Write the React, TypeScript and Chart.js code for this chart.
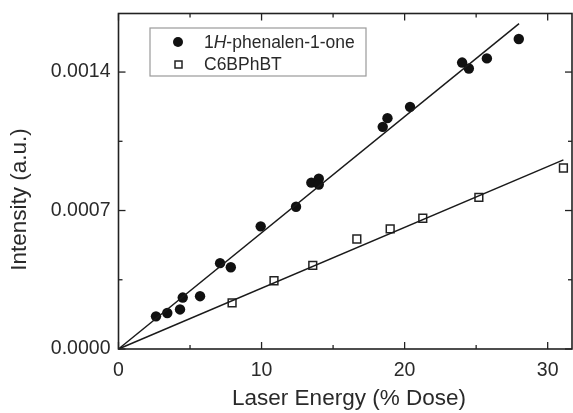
import React, { useEffect, useRef } from 'react';
import { Chart, registerables } from 'chart.js';

Chart.register(...registerables);

// Data: 1H-phenalen-1-one (filled circles)
const phenX = [2.62, 3.41, 4.30, 4.49, 5.70, 7.10, 7.85, 9.94, 12.41, 13.48, 14.0, 14.0, 18.47, 18.80, 20.38, 24.02, 24.49, 25.75, 27.98];
const phenY = [0.000165, 0.000182, 0.0002, 0.00026, 0.000267, 0.000434, 0.000413, 0.00062, 0.000719, 0.000841, 0.000861, 0.000831, 0.001123, 0.001167, 0.001224, 0.001448, 0.001418, 0.001469, 0.001567];
// Data: C6BPhBT (open squares)
const c6X = [7.94, 10.87, 13.58, 16.66, 18.99, 21.27, 25.19, 31.1];
const c6Y = [0.000233, 0.000345, 0.000423, 0.000556, 0.000607, 0.000661, 0.000766, 0.000915];
// Linear fits (endpoints)
const phenFitX = [0, 28.0];
const phenFitY = [0, 0.001645];
const c6FitX = [0, 31.1];
const c6FitY = [0, 0.000956];

const xTicks = [0, 10, 20, 30];
const xMinor = [5, 15, 25];
const yTicks = [0, 0.0007, 0.0014];
const yMinor = [0.00035, 0.00105];

const seriesNames = ['1H-phenalen-1-one', 'C6BPhBT'];
const xTitle = 'Laser Energy (% Dose)';
const yTitle = 'Intensity (a.u.)';

const FONT = '"Liberation Sans", Arial, sans-serif';
const TEXT = '#2a2a2a';

const zip = (xs: number[], ys: number[]) => xs.map((x, i) => ({ x, y: ys[i] }));

const framePlugin = {
  id: 'frame',
  afterDraw(chart: any) {
    const { ctx, chartArea: a, scales } = chart;
    const x = scales.x;
    const y = scales.y;
    ctx.save();
    ctx.strokeStyle = '#222';
    ctx.lineWidth = 1.6;
    ctx.strokeRect(a.left, a.top, a.right - a.left, a.bottom - a.top);
    const line = (x1: number, y1: number, x2: number, y2: number) => {
      ctx.beginPath();
      ctx.moveTo(x1, y1);
      ctx.lineTo(x2, y2);
      ctx.stroke();
    };
    ctx.lineWidth = 1.3;
    const maj = 7, min = 4;
    xTicks.forEach((v) => {
      const p = x.getPixelForValue(v);
      line(p, a.bottom, p, a.bottom - maj);
      line(p, a.top, p, a.top + maj);
    });
    xMinor.forEach((v) => {
      const p = x.getPixelForValue(v);
      line(p, a.bottom, p, a.bottom - min);
      line(p, a.top, p, a.top + min);
    });
    yTicks.forEach((v) => {
      const p = y.getPixelForValue(v);
      line(a.left, p, a.left + maj, p);
      line(a.right, p, a.right - maj, p);
    });
    yMinor.forEach((v) => {
      const p = y.getPixelForValue(v);
      line(a.left, p, a.left + min, p);
      line(a.right, p, a.right - min, p);
    });

    // axis titles
    ctx.fillStyle = TEXT;
    ctx.font = `22.5px ${FONT}`;
    ctx.textAlign = 'center';
    ctx.textBaseline = 'middle';
    ctx.fillText(xTitle, 349, 399);
    ctx.save();
    ctx.translate(20, 199.5);
    ctx.rotate(-Math.PI / 2);
    ctx.fillText(yTitle, 0, 0);
    ctx.restore();

    // legend
    const lx = 150, ly = 28, lw = 216, lh = 48;
    ctx.fillStyle = '#fff';
    ctx.fillRect(lx, ly, lw, lh);
    ctx.strokeStyle = '#9a9a9a';
    ctx.lineWidth = 1.2;
    ctx.strokeRect(lx, ly, lw, lh);
    // marker 1
    ctx.fillStyle = '#111';
    ctx.beginPath();
    ctx.arc(178, 42, 5, 0, Math.PI * 2);
    ctx.fill();
    // marker 2
    ctx.strokeStyle = '#222';
    ctx.lineWidth = 1.5;
    ctx.strokeRect(175, 61, 7, 7);
    // text
    ctx.fillStyle = TEXT;
    ctx.textAlign = 'left';
    ctx.textBaseline = 'middle';
    const tx = 204;
    const name = seriesNames[0];
    const parts = [name.slice(0, 1), name.slice(1, 2), name.slice(2)];
    ctx.font = `17.5px ${FONT}`;
    let cx = tx;
    ctx.fillText(parts[0], cx, 43);
    cx += ctx.measureText(parts[0]).width;
    ctx.font = `italic 17.5px ${FONT}`;
    ctx.fillText(parts[1], cx, 43);
    cx += ctx.measureText(parts[1]).width;
    ctx.font = `17.5px ${FONT}`;
    ctx.fillText(parts[2], cx, 43);
    ctx.fillText(seriesNames[1], tx, 65);
    ctx.restore();
  },
};

const zeroPad = (s: any) => {
  s.paddingLeft = 0;
  s.paddingRight = 0;
  s.paddingTop = 0;
  s.paddingBottom = 0;
};

export default function App() {
  const ref = useRef<HTMLCanvasElement>(null);
  useEffect(() => {
    const prevMargin = document.body.style.margin;
    document.body.style.margin = '0';
    const canvas = ref.current!;
    const chart = new Chart(canvas, {
      type: 'scatter',
      data: {
        datasets: [
          {
            type: 'line',
            label: 'fit1',
            data: zip(phenFitX, phenFitY),
            borderColor: '#1a1a1a',
            borderWidth: 1.5,
            pointRadius: 0,
            fill: false,
          } as any,
          {
            type: 'line',
            label: 'fit2',
            data: zip(c6FitX, c6FitY),
            borderColor: '#1a1a1a',
            borderWidth: 1.5,
            pointRadius: 0,
            fill: false,
          } as any,
          {
            label: seriesNames[0],
            data: zip(phenX, phenY),
            pointStyle: 'circle',
            pointRadius: 5.2,
            backgroundColor: '#111',
            borderColor: '#111',
            borderWidth: 0,
          },
          {
            label: seriesNames[1],
            data: zip(c6X, c6Y),
            pointStyle: 'rect',
            pointRadius: 5.5,
            backgroundColor: '#fff',
            borderColor: '#222',
            borderWidth: 1.5,
          },
        ],
      },
      options: {
        responsive: false,
        animation: false,
        devicePixelRatio: 1,
        clip: false,
        layout: { autoPadding: false, padding: { top: 13.5, right: 1, left: 0, bottom: 0 } },
        plugins: {
          legend: { display: false },
          tooltip: { enabled: false },
        },
        scales: {
          x: {
            type: 'linear',
            min: 0,
            max: 31.7,
            grid: { display: false, drawTicks: false },
            border: { display: false },
            afterBuildTicks: (s: any) => {
              s.ticks = xTicks.map((v) => ({ value: v }));
            },
            afterFit: (s: any) => {
              s.height = 64;
              zeroPad(s);
            },
            ticks: {
              padding: 10,
              color: TEXT,
              font: { family: FONT, size: 19.5 },
              maxRotation: 0,
              callback: (v: any) => String(v),
            },
          },
          y: {
            type: 'linear',
            min: 0,
            max: 0.001696,
            grid: { display: false, drawTicks: false },
            border: { display: false },
            afterBuildTicks: (s: any) => {
              s.ticks = yTicks.map((v) => ({ value: v }));
            },
            afterFit: (s: any) => {
              s.width = 118.5;
              zeroPad(s);
            },
            ticks: {
              padding: 8,
              color: TEXT,
              font: { family: FONT, size: 19.5 },
              callback: (v: any) => Number(v).toFixed(4),
            },
          },
        },
      },
      plugins: [framePlugin],
    });
    return () => {
      chart.destroy();
      document.body.style.margin = prevMargin;
    };
  }, []);
  return (
    <div style={{ width: 573, height: 413, background: '#fff' }}>
      <canvas ref={ref} width={573} height={413} style={{ display: 'block' }} />
    </div>
  );
}
